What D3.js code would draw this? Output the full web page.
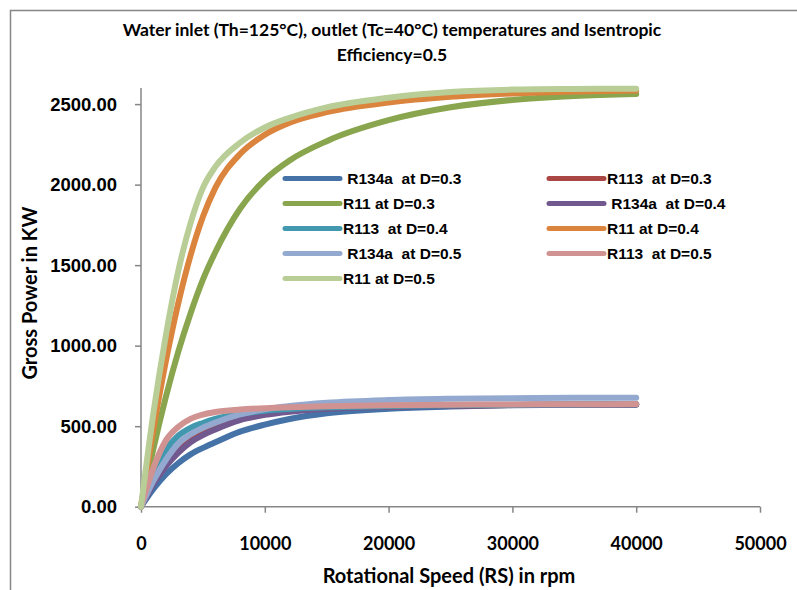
<!DOCTYPE html>
<html>
<head>
<meta charset="utf-8">
<script src="https://cdn.jsdelivr.net/npm/d3@7"></script>
<style>
  body { margin: 0; background: #fff; }
  svg { display: block; }
</style>
</head>
<body>
<svg id="chart" width="797" height="590"></svg>
<script>
// rotational speed (rpm) sample points shared by every series
const speeds = [0, 1000, 2000, 3000, 4000, 5000, 6000, 8000, 10000, 12000, 15000, 20000, 25000, 30000, 35000, 40000];

// gross power (kW)
const r134aD03 = [0, 110, 200, 270, 325, 365, 400, 466, 510, 545, 580, 608, 622, 630, 633, 635];
const r113D03  = [0, 150, 270, 350, 410, 455, 490, 545, 575, 595, 612, 622, 628, 632, 634, 635];
const r11D03   = [0, 360, 680, 960, 1200, 1410, 1580, 1850, 2030, 2150, 2270, 2400, 2480, 2526, 2550, 2563];
const r134aD04 = [0, 140, 250, 335, 400, 445, 480, 538, 570, 590, 608, 620, 627, 631, 633, 634];
const r113D04  = [0, 200, 350, 440, 490, 520, 545, 577, 596, 607, 617, 625, 630, 633, 635, 636];
const r11D04   = [0, 480, 900, 1260, 1560, 1800, 1980, 2190, 2310, 2385, 2450, 2510, 2545, 2566, 2578, 2584];
const r134aD05 = [0, 160, 290, 390, 450, 490, 522, 573, 605, 625, 645, 662, 670, 674, 676, 677];
const r113D05  = [0, 240, 410, 495, 545, 572, 588, 603, 612, 618, 624, 630, 633, 635, 636, 637];
const r11D05   = [0, 580, 1060, 1460, 1760, 1980, 2110, 2260, 2355, 2415, 2480, 2540, 2575, 2590, 2594, 2596];

const seriesNames = [
  "R134a  at D=0.3", "R113  at D=0.3", "R11 at D=0.3",
  "R134a  at D=0.4", "R113  at D=0.4", "R11 at D=0.4",
  "R134a  at D=0.5", "R113  at D=0.5", "R11 at D=0.5"
];
const seriesValues = [r134aD03, r113D03, r11D03, r134aD04, r113D04, r11D04, r134aD05, r113D05, r11D05];
const seriesColors = ["#4572A7", "#AA4643", "#89A54E", "#71588F", "#4198AF", "#DB843D", "#93A9CF", "#D19392", "#B9CD96"];

const xTicks = [0, 10000, 20000, 30000, 40000, 50000];
const yTicks = [0, 500, 1000, 1500, 2000, 2500];

const svg = d3.select("#chart");
const axisColor = "#868686";
const calibriLike = "Lato, 'Open Sans', sans-serif";
const arialLike = "'Liberation Sans', Arial, sans-serif";

// outer chart frame (only left and top edges are inside the picture)
svg.append("path")
  .attr("d", "M10.5,590 L10.5,10.5 L797,10.5")
  .attr("fill", "none")
  .attr("stroke", axisColor)
  .attr("stroke-width", 1.5);

const x = d3.scaleLinear().domain([0, 50000]).range([141, 760]);
const y = d3.scaleLinear().domain([0, 2600]).range([506.7, 88]);

// title
const title = svg.append("text")
  .attr("text-anchor", "middle")
  .style("font-family", calibriLike)
  .style("font-weight", "bold")
  .style("font-size", "17.5px")
  .attr("fill", "#000");
title.append("tspan").attr("x", 392).attr("y", 36).text("Water inlet (Th=125°C), outlet (Tc=40°C) temperatures and Isentropic");
title.append("tspan").attr("x", 392).attr("y", 61).text("Efficiency=0.5");

// y axis
const yAxis = svg.append("g")
  .attr("transform", "translate(141,0)")
  .call(d3.axisLeft(y).tickValues(yTicks).tickSize(6).tickPadding(18).tickFormat(d3.format(".2f")));
yAxis.select(".domain").attr("stroke", axisColor).attr("stroke-width", 1.5).attr("d", `M0,${y(2600)}V${y(0)}`);
yAxis.selectAll(".tick line").attr("stroke", axisColor).attr("stroke-width", 1.5);
yAxis.selectAll(".tick text")
  .attr("fill", "#000")
  .style("font-family", arialLike)
  .style("font-weight", "bold")
  .style("font-size", "18.5px");

// x axis
const xAxis = svg.append("g")
  .attr("transform", `translate(0,${y(0)})`)
  .call(d3.axisBottom(x).tickValues(xTicks).tickSize(6).tickPadding(25).tickFormat(d3.format("d")));
xAxis.select(".domain").attr("stroke", axisColor).attr("stroke-width", 1.5).attr("d", `M${x(0)},0H${x(50000)}`);
xAxis.selectAll(".tick line").attr("stroke", axisColor).attr("stroke-width", 1.5);
xAxis.selectAll(".tick text")
  .attr("fill", "#000")
  .style("font-family", calibriLike)
  .style("font-weight", "bold")
  .style("font-size", "18px");

// axis titles
svg.append("text")
  .attr("x", 449).attr("y", 583)
  .attr("text-anchor", "middle")
  .style("font-family", calibriLike)
  .style("font-weight", "bold")
  .style("font-size", "20px")
  .text("Rotational Speed (RS) in rpm");

svg.append("text")
  .attr("transform", "translate(37,293) rotate(-90)")
  .attr("text-anchor", "middle")
  .style("font-family", calibriLike)
  .style("font-weight", "bold")
  .style("font-size", "20px")
  .text("Gross Power in KW");

// series lines
const line = d3.line()
  .x((d, i) => x(speeds[i]))
  .y(d => y(d))
  .curve(d3.curveMonotoneX);

seriesValues.forEach((vals, i) => {
  svg.append("path")
    .datum(vals)
    .attr("d", line)
    .attr("fill", "none")
    .attr("stroke", seriesColors[i])
    .attr("stroke-width", 6)
    .attr("stroke-linecap", "round")
    .attr("stroke-linejoin", "round");
});

// legend, two columns filled row by row
const legend = svg.append("g");
seriesNames.forEach((name, i) => {
  const col = i % 2;
  const row = Math.floor(i / 2);
  const lx = col === 0 ? 285 : 549;
  const ly = 178.5 + row * 25;
  const item = legend.append("g");
  item.append("line")
    .attr("x1", lx).attr("x2", lx + 55)
    .attr("y1", ly).attr("y2", ly)
    .attr("stroke", seriesColors[i])
    .attr("stroke-width", 5)
    .attr("stroke-linecap", "round");
  item.append("text")
    .attr("x", lx + 58)
    .attr("y", ly + 5.5)
    .attr("xml:space", "preserve")
    .style("white-space", "pre")
    .style("font-family", arialLike)
    .style("font-weight", "bold")
    .style("font-size", "15.5px")
    .text(name.startsWith("R134a") ? " " + name : name);
});
</script>
</body>
</html>
